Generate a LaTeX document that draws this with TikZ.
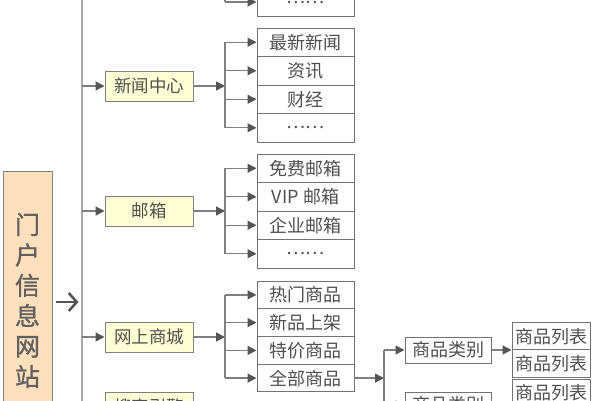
\documentclass[tikz,border=0pt]{standalone}
\usepackage{fontspec}
\newfontfamily\cjk{Noto Sans CJK SC}
\newfontfamily\cjkbold[FakeBold=1.2]{Noto Sans CJK SC}
\usetikzlibrary{arrows.meta}
\definecolor{rootfill}{HTML}{FFE0BC}
\definecolor{lonefill}{HTML}{FFFFD6}
\definecolor{txt}{HTML}{505050}
\definecolor{ln}{HTML}{808080}
\definecolor{tip}{HTML}{555555}
\definecolor{trunkc}{HTML}{A8A8A8}
\tikzset{
  rootbox/.style={draw=ln, line width=1pt, fill=rootfill, minimum width=49, minimum height=259, inner sep=0pt,
    align=center, text=txt!90, font=\cjkbold\fontsize{25}{30.4}\selectfont},
  lone/.style={draw=ln, line width=1pt, fill=lonefill, minimum width=88, minimum height=30, inner sep=0pt,
    text=txt, font=\cjk\fontsize{17.5}{20}\selectfont},
  cell/.style={draw=ln!90!black, line width=1pt, fill=white, minimum width=97, minimum height=#1, inner sep=0pt,
    text=txt, font=\cjk\fontsize{18}{20}\selectfont},
  cell/.default=28.5,
  catbox/.style={draw=ln!90!black, line width=1pt, fill=white, minimum width=86, minimum height=26, inner sep=0pt,
    text=txt, font=\cjk\fontsize{18}{20}\selectfont},
  listbox/.style={draw=ln!90!black, line width=1pt, fill=white, minimum width=78, minimum height=27, inner sep=0pt,
    text=txt, font=\cjk\fontsize{18}{20}\selectfont},
  link/.style={draw=ln, line width=1.3pt},
  arr/.style={link, -{Triangle[length=9pt,width=9pt,fill=tip,color=tip]}},
  trunk/.style={draw=trunkc, line width=2pt},
  bigarrow/.style={draw=tip, line width=2.6pt, -{Straight Barb[length=8pt,width=18pt,line width=2.6pt]}}
}
\begin{document}
\begin{tikzpicture}[x=1pt,y=-1pt]
\useasboundingbox (0,0) rectangle (600,400);
\clip (0,0) rectangle (600,400);

% root
\node[rootbox] (root) at (27.5,300.5) {门\\户\\信\\息\\网\\站};
\draw[bigarrow] ([xshift=3pt,yshift=-1.5pt]root.east) -- ([xshift=26pt,yshift=-1.5pt]root.east);

% trunk
\coordinate (tt) at (82,-10);
\coordinate (tb) at (82,410);
\draw[trunk] (tt) -- (tb);

% level one
\node[lone] (news) at (149,86) {新闻中心};
\node[lone] (mail) at (149,211) {邮箱};
\node[lone] (shop) at (149,337) {网上商城};
\node[lone] (search) at (149,407) {搜索引擎};
\foreach \n in {news,mail,shop,search}
  \draw[arr] (\n.west -| tt) -- (\n.west);

% bar coordinates
\coordinate (bx) at (225,0);
\coordinate (ttop) at (225,-20);

% top (cut) group
\node[cell] (t4) at (305.5,2) {……};
\draw[link] (ttop) -- (t4.west -| bx);
\draw[arr] (t4.west -| bx) -- (t4.west);

% news group
\node[cell] (n1) at (305.5,42.25) {最新新闻};
\node[cell] (n2) at (305.5,70.75) {资讯};
\node[cell] (n3) at (305.5,99.25) {财经};
\node[cell] (n4) at (305.5,127.75) {……};

% mail group
\node[cell] (m1) at (305.5,168.25) {免费邮箱};
\node[cell] (m2) at (305.5,196.75) {VIP 邮箱};
\node[cell] (m3) at (305.5,225.25) {企业邮箱};
\node[cell] (m4) at (305.5,253.75) {……};

% shop group
\node[cell=27.75] (s1) at (305.5,294.9) {热门商品};
\node[cell=27.75] (s2) at (305.5,322.6) {新品上架};
\node[cell=27.75] (s3) at (305.5,350.4) {特价商品};
\node[cell=27.75] (s4) at (305.5,378.1) {全部商品};

\foreach \p/\a/\b/\c/\d in {news/n1/n2/n3/n4, mail/m1/m2/m3/m4, shop/s1/s2/s3/s4} {
  \draw[arr] (\p.east) -- (\p.east -| bx);
  \draw[link] (\a.west -| bx) -- (\d.west -| bx);
  \foreach \q in {\a,\b,\c,\d}
    \draw[arr] (\q.west -| bx) -- (\q.west);
}

% categories
\coordinate (cx) at (384,0);
\coordinate (cbot) at (384,430);
\node[catbox] (cat1) at (448,350) {商品类别};
\node[catbox] (cat2) at (448,405) {商品类别};
\draw[arr] (s4.east) -- (s4.east -| cx);
\draw[link] (cat1.west -| cx) -- (cbot);
\draw[arr] (cat1.west -| cx) -- (cat1.west);
\draw[arr] (cat2.west -| cx) -- (cat2.west);

% product lists
\node[listbox] (p1) at (551,336.25) {商品列表};
\node[listbox, minimum height=27.5] (p2) at (551,363.25) {商品列表};
\node[listbox] (p3) at (551,392.5) {商品列表};
\draw[arr] (cat1.east) -- (cat1.east -| p1.west);
\end{tikzpicture}
\end{document}
